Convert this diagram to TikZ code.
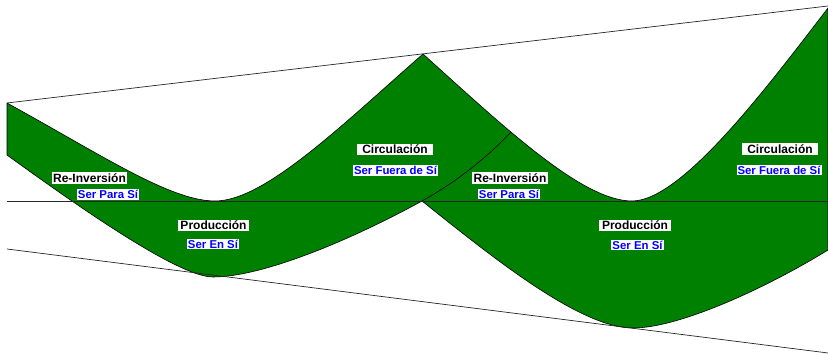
\documentclass[tikz,border=0pt]{standalone}
\usepackage{fontspec}
\setmainfont{Liberation Sans}
\definecolor{bandgreen}{HTML}{008000}
\begin{document}
\begin{tikzpicture}[x=1pt,y=-1pt,
  band/.style={fill=bandgreen, draw=black, line width=0.6pt, line join=round},
  guide/.style={draw=black!85, line width=0.7pt},
  lab/.style={fill=white, inner xsep=1.5pt, inner ysep=1.5pt, font=\fontsize{12}{13}\selectfont\bfseries, text=black},
  sub/.style={fill=white, inner xsep=1pt, inner ysep=1pt, font=\fontsize{11.4}{12}\selectfont\bfseries, text=blue}]
\useasboundingbox (0,0) rectangle (828,355);
% key points
\coordinate (UL) at (7,103);
\coordinate (LL) at (7,155);
\coordinate (U1m) at (215,201);
\coordinate (Pk) at (423,54);
\coordinate (U2m) at (632,201);
\coordinate (UR) at (828,8);
\coordinate (LR) at (828,250);
\coordinate (L2m) at (633,328);
\coordinate (Cu) at (422,201);
\coordinate (L1m) at (213,277);
\coordinate (Xe) at (511,132);
\coordinate (T1) at (7,103);
\coordinate (T2) at (828,6);
\coordinate (H1) at (7,201.5);
\coordinate (H2) at (828,201.5);
\coordinate (B1) at (7,249);
\coordinate (B2) at (828,353);
% green band
\path[band] (UL) .. controls (100,154) and (170,201) .. (U1m)
  .. controls (265,201) and (343,124) .. (Pk)
  .. controls (503,126) and (582,201) .. (U2m)
  .. controls (682,201) and (768,86) .. (UR)
  -- (LR)
  .. controls (768,287) and (680,328) .. (L2m)
  .. controls (580,328) and (492,257) .. (Cu)
  .. controls (352,239.5) and (263,277) .. (L1m)
  .. controls (180,277) and (87,213) .. (LL) -- cycle;
\draw[line width=0.6pt] (Cu) .. controls (452,184.5) and (485,160) .. (Xe);
% guide lines
\draw[guide] (T1) -- (T2);
\draw[guide] (H1) -- (H2);
\draw[guide] (B1) -- (B2);
% labels
\node[lab, minimum width=75pt] (ri1) at (89.5,178) {Re-Inversión};
\node[sub] (sp1) at (108,194.5) {Ser Para Sí};
\node[lab, minimum width=71pt] (pr1) at (213.5,225.5) {Producción};
\node[sub] (se1) at (213,244) {Ser En Sí};
\node[lab, minimum width=76pt] (ci1) at (395,149.5) {Circulación};
\node[sub] (sf1) at (395.5,170.5) {Ser Fuera de Sí};
\node[lab, minimum width=76pt] (ri2) at (510,178) {Re-Inversión};
\node[sub] (sp2) at (509,194) {Ser Para Sí};
\node[lab, minimum width=72pt] (pr2) at (635,225.5) {Producción};
\node[sub] (se2) at (637.5,245) {Ser En Sí};
\node[lab, minimum width=76pt] (ci2) at (780,149) {Circulación};
\node[sub] (sf2) at (779,170) {Ser Fuera de Sí};
\end{tikzpicture}
\end{document}
